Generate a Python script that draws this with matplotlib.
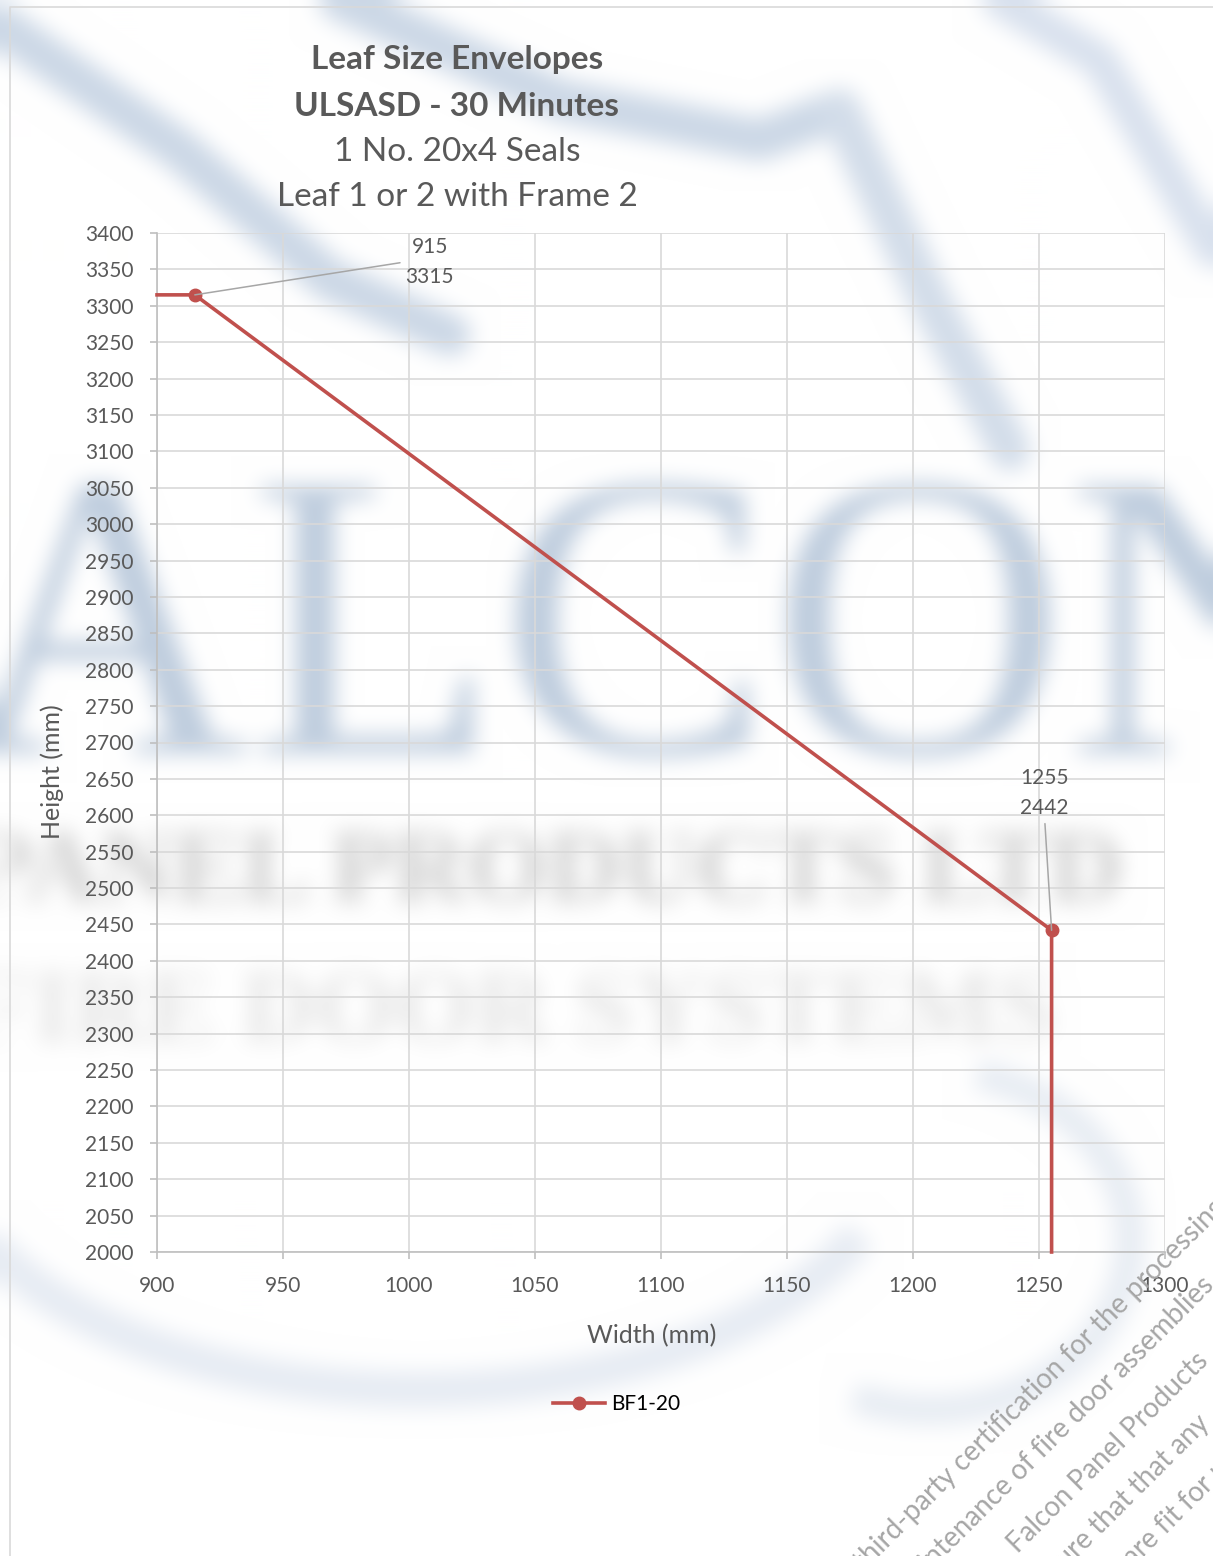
import numpy as np
import matplotlib
matplotlib.use('Agg')
import matplotlib.pyplot as plt

# data
widths = [900, 915, 1255, 1255]
heights = [3315, 3315, 2442, 2000]
marked = [1, 2]  # points that carry a marker and a data label
series_name = 'BF1-20'
title_lines = ['Leaf Size Envelopes', 'ULSASD - 30 Minutes', '1 No. 20x4 Seals', 'Leaf 1 or 2 with Frame 2']
x_ticks = list(range(900, 1301, 50))
y_ticks = list(range(2000, 3401, 50))

W, H = 1213, 1556
FONT = 'Lato'
GREY = '#595959'
RED = '#c0504d'


def box_blur(a, r):
    k = 2 * r + 1
    for ax_ in (0, 1):
        pad = [(0, 0)] * a.ndim
        pad[ax_] = (r + 1, r)
        p = np.pad(a, pad, mode='edge')
        c = np.cumsum(p, axis=ax_)
        n = a.shape[ax_]
        a = (np.take(c, range(k, k + n), axis=ax_) - np.take(c, range(0, n), axis=ax_)) / k
    return a


def make_watermark():
    # blurred company logo behind the chart
    wf = plt.figure(figsize=(W / 100, H / 100), dpi=100)
    wf.patch.set_facecolor('white')
    bg = wf.add_axes([0, 0, 1, 1])
    bg.set_xlim(0, W)
    bg.set_ylim(H, 0)
    bg.axis('off')
    blue = '#c3d1e2'
    bg.plot([0, 180, 330, 450], [25, 150, 280, 335], color=blue, lw=30, solid_capstyle='round')
    bg.plot([340, 560, 760, 840], [0, 100, 140, 110], color=blue, lw=30, solid_capstyle='round')
    bg.plot([840, 930, 1010], [110, 300, 450], color='#cbd7e6', lw=30, solid_capstyle='round')
    bg.plot([1000, 1100, 1213], [0, 60, 250], color='#d2dceb', lw=26, solid_capstyle='round')
    t = np.linspace(np.pi * 1.05, np.pi * 1.85, 60)
    bg.plot(420 + 480 * np.cos(t), 1130 - 260 * np.sin(t), color='#e2e8f1', lw=26)
    t = np.linspace(-0.4 * np.pi, 0.6 * np.pi, 60)
    bg.plot(930 + 200 * np.cos(t), 1240 + 170 * np.sin(t), color='#e3e9f1', lw=22)
    bg.text(560, 655, 'FALCON', fontsize=294, family='Liberation Serif', color='#b3c4d8',
            ha='center', va='center')
    bg.text(-30, 876, 'PANEL PRODUCTS LTD', fontsize=74, family='Liberation Serif',
            fontweight='bold', color='#c4c4c4', ha='left', va='center')
    bg.text(-30, 1016, 'FIRE DOOR SYSTEMS', fontsize=74, family='Liberation Serif',
            fontweight='bold', color='#e0e0e0', ha='left', va='center')
    wf.canvas.draw()
    img = np.asarray(wf.canvas.buffer_rgba())[..., :3].astype(float) / 255
    plt.close(wf)
    for _ in range(3):
        img = box_blur(img, 10)
    return np.clip(1 - (1 - img) * 0.85, 0, 1)


fig = plt.figure(figsize=(W / 100, H / 100), dpi=100)
fig.patch.set_facecolor('white')

bg = fig.add_axes([0, 0, 1, 1], zorder=-2)
bg.imshow(make_watermark(), aspect='auto', extent=(0, W, H, 0))
bg.set_xlim(0, W)
bg.set_ylim(H, 0)
bg.axis('off')
# chart area border
bg.plot([10, 10, W], [H, 7, 7], color='#d9d9d9', lw=1.2)

ax = fig.add_axes([157 / W, 1 - 1252 / H, (1165 - 157) / W, (1252 - 233) / H])
ax.set_facecolor('none')
ax.set_xlim(900, 1300)
ax.set_ylim(2000, 3400)
ax.set_xticks(x_ticks)
ax.set_yticks(y_ticks)
ax.grid(True, color='#d9d9d9', lw=1.2)
ax.set_axisbelow(True)
for s in ('top', 'right'):
    ax.spines[s].set_visible(False)
for s in ('left', 'bottom'):
    ax.spines[s].set_color('#bfbfbf')
    ax.spines[s].set_linewidth(1.2)
ax.tick_params(direction='out', length=5, width=1.2, color='#bfbfbf',
               labelsize=15, labelcolor=GREY, pad=12)
for lab in ax.get_xticklabels() + ax.get_yticklabels():
    lab.set_family(FONT)

ax.plot(widths, heights, color=RED, lw=2.6, marker='o', markersize=9,
        markevery=marked, label=series_name, clip_on=False, zorder=3)

ax.set_xlabel('Width (mm)', fontsize=18, family=FONT, color=GREY)
ax.set_ylabel('Height (mm)', fontsize=18, family=FONT, color=GREY)
ax.xaxis.set_label_coords(0.491, -0.0707)
ax.yaxis.set_label_coords(-0.092, 0.471)

# data labels with leader lines
offsets = {1: (235, 33, (0, 0.5)), 2: (-7, 137, (0.5, 0))}
for i in marked:
    dx, dy, rp = offsets[i]
    ax.annotate(f'{widths[i]}\n{heights[i]}', xy=(widths[i], heights[i]),
                xytext=(dx, dy), textcoords='offset pixels', ha='center', va='center',
                fontsize=15, family=FONT, color=GREY, linespacing=1.6,
                arrowprops=dict(arrowstyle='-', color='#a6a6a6', lw=1.1,
                                shrinkA=2, shrinkB=0, relpos=rp), zorder=4)

leg = ax.legend(loc='center', bbox_to_anchor=(0.456, -0.1493), frameon=False,
                handlelength=2.5, handletextpad=0.3, prop={'family': FONT, 'size': 15})

# title
ys = [60, 106, 152, 197]
for k, (txt, y) in enumerate(zip(title_lines, ys)):
    fig.text(457 / W, 1 - y / H, txt, ha='center', va='center', fontsize=24, family=FONT,
             color=GREY, fontweight='bold' if k < 2 else 'normal')

# rotated watermark text, bottom right
wm_lines = [('third-party certification for the processing', 859, 1566),
            ('maintenance of fire door assemblies', 898, 1592),
            ('Falcon Panel Products', 1012, 1548),
            ('ensure that that any', 1031, 1594),
            ('are fit for purpose', 1128, 1562)]
for txt, x, y in wm_lines:
    fig.text(x / W, 1 - y / H, txt, rotation=45, rotation_mode='anchor', ha='left', va='center',
             fontsize=20, family=FONT, color='#a6a6a6')

fig.savefig('out.png', dpi=100)
